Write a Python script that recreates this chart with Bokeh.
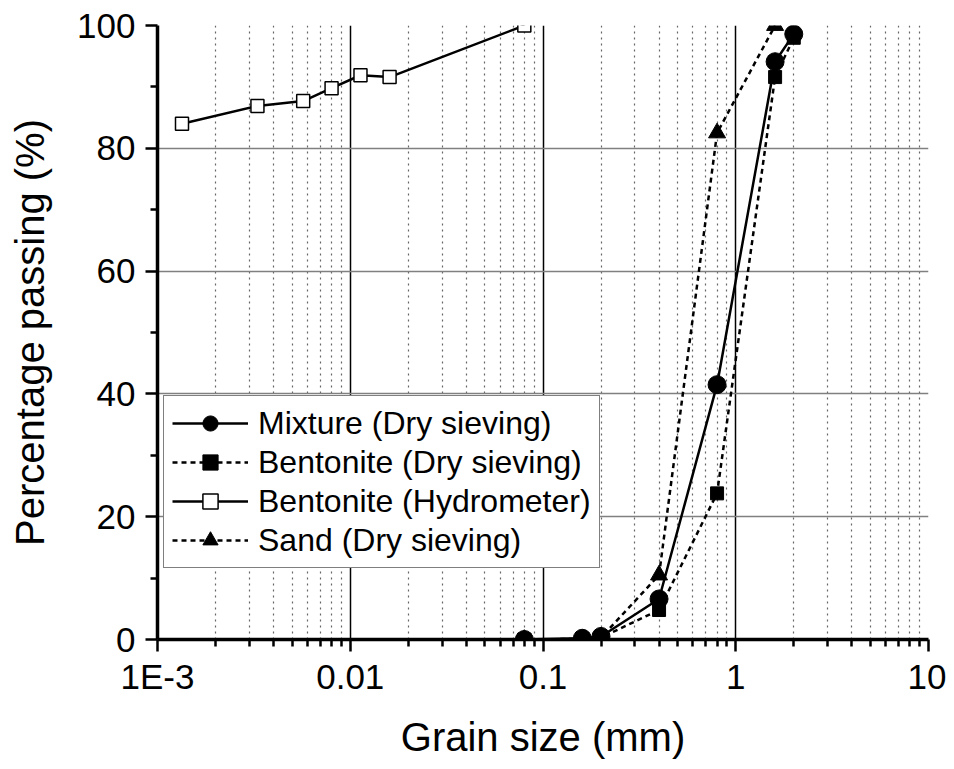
from bokeh.plotting import figure
from bokeh.models import FixedTicker, Legend, LegendItem
from bokeh.embed import file_html
from bokeh.resources import INLINE

# ---- data ----
mix_x = [0.08, 0.16, 0.2, 0.4, 0.8, 1.6, 2.0]
mix_y = [0.0, 0.2, 0.5, 6.6, 41.5, 94.1, 98.6]

bent_x = [0.08, 0.16, 0.2, 0.4, 0.8, 1.6, 2.0]
bent_y = [0.0, 0.1, 0.3, 4.8, 23.8, 91.6, 98.0]

hyd_x = [0.00134, 0.0033, 0.0057, 0.008, 0.0113, 0.016, 0.08]
hyd_y = [84.0, 86.9, 87.7, 89.8, 91.9, 91.6, 100.0]

sand_x = [0.08, 0.16, 0.2, 0.4, 0.8, 1.6]
sand_y = [0.0, 0.0, 0.3, 10.5, 82.5, 100.0]

x_ticks = [0.001, 0.01, 0.1, 1, 10]
x_tick_labels = ["1E-3", "0.01", "0.1", "1", "10"]
y_ticks = [0, 20, 40, 60, 80, 100]
y_minor = [10, 30, 50, 70, 90]

series_names = ["Mixture (Dry sieving)", "Bentonite (Dry sieving)",
                "Bentonite (Hydrometer)", "Sand (Dry sieving)"]

x_minor = [m * d for d in x_ticks[:-1] for m in range(2, 10)]

FONT = "Liberation Sans"

p = figure(width=946, height=761, x_axis_type="log",
           x_range=(0.001, 10), y_range=(0, 100),
           output_backend="svg", toolbar_location=None,
           min_border_left=157, min_border_right=18,
           min_border_top=25, min_border_bottom=122)
p.outline_line_color = None
p.background_fill_color = "white"
p.border_fill_color = "white"

# axes
xa = p.xaxis[0]
ya = p.yaxis[0]
xa.ticker = FixedTicker(ticks=x_ticks, minor_ticks=x_minor)
xa.major_label_overrides = {t: l for t, l in zip(x_ticks, x_tick_labels)}
ya.ticker = FixedTicker(ticks=y_ticks, minor_ticks=y_minor)
xa.axis_label = "Grain size (mm)"
ya.axis_label = "Percentage passing (%)"
for ax in (xa, ya):
    ax.axis_line_width = 3.5
    ax.axis_line_color = "black"
    ax.major_tick_line_width = 2.5
    ax.minor_tick_line_width = 2.5
    ax.major_tick_line_color = "black"
    ax.minor_tick_line_color = "black"
    ax.major_tick_out = 12
    ax.major_tick_in = 0
    ax.minor_tick_out = 7
    ax.minor_tick_in = 0
    ax.major_label_text_font = FONT
    ax.major_label_text_font_size = "35px"
    ax.major_label_text_color = "black"
    ax.axis_label_text_font = FONT
    ax.axis_label_text_font_size = "40px"
    ax.axis_label_text_font_style = "normal"
    ax.axis_label_text_color = "black"
xa.major_label_standoff = 5
xa.axis_label_standoff = 16
ya.major_label_standoff = 10
ya.axis_label_standoff = 22

# grids
p.xgrid.ticker = FixedTicker(ticks=x_ticks[:-1], minor_ticks=x_minor)
p.xgrid.grid_line_color = "black"
p.xgrid.grid_line_width = 1.5
p.xgrid.minor_grid_line_color = "#666666"
p.xgrid.minor_grid_line_width = 1.2
p.xgrid.minor_grid_line_dash = "2 4"
p.ygrid.ticker = FixedTicker(ticks=y_ticks)
p.ygrid.grid_line_color = "#808080"
p.ygrid.grid_line_width = 1.5

# series
bl = p.line(bent_x, bent_y, line_color="black", line_width=2.5, line_dash="5 4")
bs = p.scatter(bent_x, bent_y, marker="square", size=13, fill_color="black", line_color="black")

sl = p.line(sand_x, sand_y, line_color="black", line_width=2.5, line_dash="5 4")
ss = p.scatter(sand_x, sand_y, marker="triangle", size=17, fill_color="black", line_color="black")

hl = p.line(hyd_x, hyd_y, line_color="black", line_width=2.5)
hs = p.scatter(hyd_x, hyd_y, marker="square", size=13, fill_color="white", line_color="black", line_width=1.5)

ml = p.line(mix_x, mix_y, line_color="black", line_width=2.5)
ms = p.scatter(mix_x, mix_y, marker="circle", size=18, fill_color="black", line_color="black")

legend = Legend(items=[
    LegendItem(label=series_names[0], renderers=[ml, ms]),
    LegendItem(label=series_names[1], renderers=[bl, bs]),
    LegendItem(label=series_names[2], renderers=[hl, hs]),
    LegendItem(label=series_names[3], renderers=[sl, ss]),
], location=(6, 71))
legend.label_text_font = FONT
legend.label_text_font_size = "32px"
legend.label_text_color = "black"
legend.glyph_width = 76
legend.glyph_height = 38
legend.label_height = 36
legend.spacing = 1
legend.padding = 8
legend.margin = 0
legend.label_standoff = 10
legend.border_line_color = "black"
legend.border_line_width = 1
legend.background_fill_alpha = 1.0
p.add_layout(legend)

open("out.html", "w").write(file_html(p, INLINE))
